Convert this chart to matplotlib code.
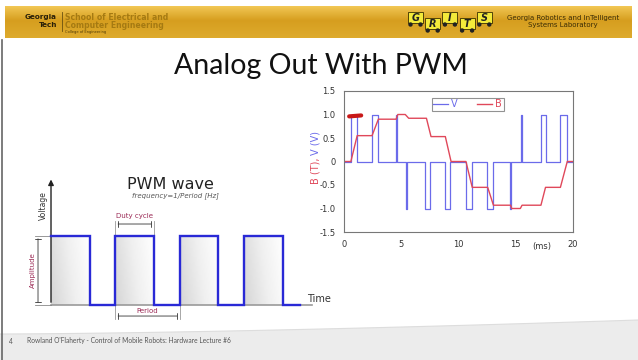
import numpy as np
import matplotlib.pyplot as plt
from matplotlib.patches import Rectangle, Circle, Polygon

W, H = 638, 360

# --- right chart: V (volts) pulses and B (tesla) response, time in ms ---
V_T = [0, 0.6, 1.15, 2.45, 2.95, 4.5, 4.65, 5.4, 5.52, 7.1, 7.55, 8.8, 9.3,
       10.65, 11.2, 12.5, 13.0, 14.5, 14.6, 15.45, 15.58, 17.2, 17.6, 18.9, 19.5, 20]
V_LEVEL = [0, 1, 0, 1, 0, 1, 0, -1, 0, -1, 0, -1, 0,
           -1, 0, -1, 0, -1, 0, 1, 0, 1, 0, 1, 0, 0]

B_T = [0, 0.6, 1.15, 2.45, 3.0, 4.55, 4.7, 5.35, 5.65, 7.2, 7.6, 8.85, 9.35,
       10.65, 11.2, 12.55, 13.05, 14.55, 14.65, 15.4, 15.55, 17.2, 17.6, 18.9, 19.5, 20]
B_VAL = [0, 0, 0.55, 0.55, 0.9, 0.9, 1.0, 1.0, 0.92, 0.92, 0.53, 0.53, 0,
         0, -0.55, -0.55, -0.93, -0.93, -1.0, -1.0, -0.93, -0.93, -0.55, -0.55, 0, 0]

CURSOR_T = [0.45, 1.5]
CURSOR_B = [0.96, 0.98]

Y_TICKS = [1.5, 1.0, 0.5, 0, -0.5, -1.0, -1.5]
Y_TICK_LABELS = ['1.5', '1.0', '0.5', '0', '-0.5', '-1.0', '-1.5']
X_TICKS = [0, 5, 10, 15, 20]

# --- left diagram: PWM wave (time in periods, voltage normalised) ---
PWM_T = [0, 0.6, 1.0, 1.6, 2.0, 2.6, 3.0, 3.6, 3.87]
PWM_V = [1, 0, 1, 0, 1, 0, 1, 0, 0]
PULSE_START = [0, 1.0, 2.0, 3.0]
PULSE_WIDTH = 0.6


def px_box(l, t, r, b):
    return [l / W, 1 - b / H, (r - l) / W, (b - t) / H]


fig = plt.figure(figsize=(W / 100, H / 100), dpi=100)
fig.patch.set_facecolor('white')

# background / slide decorations in pixel coordinates
bg = fig.add_axes([0, 0, 1, 1])
bg.set_xlim(0, W)
bg.set_ylim(H, 0)
bg.axis('off')

# golden header bar
grad = np.linspace(0, 1, 60)[:, None]
top_c = np.array([0.95, 0.78, 0.33])
mid_c = np.array([0.84, 0.62, 0.12])
bot_c = np.array([0.87, 0.67, 0.18])
rows = np.where(grad < 0.45, top_c + (mid_c - top_c) * (grad / 0.45),
                mid_c + (bot_c - mid_c) * ((grad - 0.45) / 0.55))
bg.imshow(rows[:, None, :].repeat(2, axis=1), extent=(5, 632, 38, 6),
          origin='upper', aspect='auto', zorder=1)

bg.text(57, 17, 'Georgia', ha='right', va='center', fontsize=5.2,
        fontweight='bold', color='#2a2008', family='DejaVu Sans')
bg.text(57, 25, 'Tech', ha='right', va='center', fontsize=5.2,
        fontweight='bold', color='#2a2008', family='DejaVu Sans')
bg.plot([61.5, 61.5], [12, 31], color='#6a5010', lw=0.6, zorder=2)
bg.text(65, 17, 'School of Electrical and', ha='left', va='center', fontsize=5.6,
        fontweight='bold', color='#a57a12', family='DejaVu Sans')
bg.text(65, 25, 'Computer Engineering', ha='left', va='center', fontsize=5.6,
        fontweight='bold', color='#a57a12', family='DejaVu Sans')
bg.text(65, 32, 'College of Engineering', ha='left', va='center', fontsize=2.6,
        color='#4a3808', family='DejaVu Sans')

# GRITS logo
for i, ch in enumerate('GRITS'):
    x0 = 408 + i * 17.2
    y0 = 12 if i % 2 == 0 else 18
    bg.add_patch(Rectangle((x0, y0), 15, 11, facecolor='#f3ea3a',
                           edgecolor='#3a3000', lw=0.6, zorder=3))
    bg.text(x0 + 7.5, y0 + 5.8, ch, ha='center', va='center', fontsize=7,
            fontstyle='italic', fontweight='bold', color='#222222', zorder=4)
    for dx in (2.5, 12.5):
        bg.add_patch(Circle((x0 + dx, y0 + 12.5), 1.5, color='#222222', zorder=4))

bg.text(563, 18, 'Georgia Robotics and InTelligent', ha='center', va='center',
        fontsize=5, color='#3a2c05', family='DejaVu Sans')
bg.text(563, 25, 'Systems Laboratory', ha='center', va='center',
        fontsize=5, color='#3a2c05', family='DejaVu Sans')

# footer band with curved edge
xs = np.linspace(0, W, 100)
curve = 334 - 14 * (xs / W) ** 1.5
bg.add_patch(Polygon(np.column_stack([np.r_[xs, W, 0], np.r_[curve, H, H]]),
                     closed=True, facecolor='#ececec', edgecolor='none', zorder=0))
bg.plot(xs, curve, color='#dddddd', lw=0.8, zorder=0)
bg.plot([1.5, 1.5], [40, H], color='#666666', lw=1.2)

bg.text(9, 341, '4', ha='left', va='center', fontsize=4.8, color='#555555',
        family='Lato')
bg.text(27, 341, "Rowland O'Flaherty - Control of Mobile Robots: Hardware Lecture #6",
        ha='left', va='center', fontsize=4.8, color='#555555', family='Lato')

bg.text(321, 66, 'Analog Out With PWM', ha='center', va='center', fontsize=20.5,
        color='#111111', family='Lato')

# ---------- left: PWM wave diagram ----------
ax1 = fig.add_axes(px_box(20, 170, 335, 325))
ax1.axis('off')

shade = np.linspace(0.22, 0.0, 60)[None, :] + np.linspace(0.0, 0.05, 30)[:, None]
for s in PULSE_START:
    ax1.imshow(shade, cmap='Greys', vmin=0, vmax=1, aspect='auto',
               extent=(s, s + PULSE_WIDTH, 0, 1), origin='upper', zorder=1)
ax1.set_xlim(-0.482, 4.415)
ax1.set_ylim(-0.29, 1.957)

ax1.plot([0, 4.06], [0, 0], color='#9a9a9a', lw=1.2, zorder=2)
ax1.annotate('', xy=(0, 1.86), xytext=(0, 0),
             arrowprops=dict(arrowstyle='-|>', color='#222222', lw=1.0,
                             mutation_scale=8), zorder=3)
ax1.plot(PWM_T, PWM_V, drawstyle='steps-post', color='#2929d6', lw=1.7,
         zorder=4, solid_joinstyle='miter')

ax1.text(-0.124, 1.435, 'Voltage', rotation=90, ha='center', va='center',
         fontsize=5.5, color='#333333')
ax1.text(4.17, 0.08, 'Time', ha='center', va='center', fontsize=7,
         color='#333333')
ax1.text(1.85, 1.745, 'PWM wave', ha='center', va='center', fontsize=11.5,
         color='#222222')
ax1.text(1.93, 1.58, 'frequency=1/Period [Hz]', ha='center', va='center',
         fontsize=5, fontstyle='italic', color='#555555')

maroon = '#9b2a55'
# amplitude bracket
ax1.plot([-0.25, 0], [1, 1], color='#888888', lw=0.6)
ax1.plot([-0.25, 0], [0, 0], color='#888888', lw=0.6)
ax1.annotate('', xy=(-0.202, 1), xytext=(-0.202, 0),
             arrowprops=dict(arrowstyle='|-|', color='#333333', lw=0.6,
                             mutation_scale=2))
ax1.text(-0.285, 0.5, 'Amplitude', rotation=90, ha='center', va='center',
         fontsize=5, color=maroon)
# duty cycle bracket
for s in (1.0, 1.6):
    ax1.plot([s, s], [1, 1.22], color='#999999', lw=0.6)
ax1.annotate('', xy=(1.6, 1.174), xytext=(1.0, 1.174),
             arrowprops=dict(arrowstyle='|-|', color='#333333', lw=0.6,
                             mutation_scale=2))
ax1.text(1.3, 1.285, 'Duty cycle', ha='center', va='center', fontsize=5,
         color=maroon)
# period bracket
for s in (1.0, 2.0):
    ax1.plot([s, s], [0, -0.2], color='#999999', lw=0.6)
ax1.annotate('', xy=(2.0, -0.16), xytext=(1.0, -0.16),
             arrowprops=dict(arrowstyle='|-|', color='#333333', lw=0.6,
                             mutation_scale=2))
ax1.text(1.5, -0.08, 'Period', ha='center', va='center', fontsize=5,
         color=maroon)

# ---------- right: V and B vs time ----------
ax2 = fig.add_axes(px_box(344, 91, 573, 232))
ax2.plot(V_T, V_LEVEL, drawstyle='steps-post', color='#6b6bea', lw=0.9, label='V')
ax2.plot(B_T, B_VAL, color='#e0485a', lw=1.0, label='B')
ax2.plot(CURSOR_T, CURSOR_B, color='#c81818', lw=3, solid_capstyle='round')
ax2.set_xlim(0, 20)
ax2.set_ylim(-1.5, 1.5)
ax2.set_yticks(Y_TICKS)
ax2.set_yticklabels(Y_TICK_LABELS)
ax2.set_xticks(X_TICKS)
ax2.tick_params(labelsize=6, colors='#333333', length=0, pad=6)
for sp in ax2.spines.values():
    sp.set_color('#777777')
    sp.set_linewidth(0.8)
leg = ax2.legend(loc='upper center', bbox_to_anchor=(0.54, 0.985), ncol=2,
                 fontsize=7, frameon=True, fancybox=False, handlelength=1.5,
                 handletextpad=0.35, columnspacing=2.0, borderpad=0.15,
                 labelcolor='linecolor')
leg.get_frame().set_edgecolor('#777777')
leg.get_frame().set_linewidth(0.8)

bg.text(542, 246, '(ms)', ha='center', va='center', fontsize=6, color='#333333')
bg.text(315, 171, 'B (T),', rotation=90, ha='center', va='center', fontsize=7,
        color='#e0485a')
bg.text(315, 143, 'V (V)', rotation=90, ha='center', va='center', fontsize=7,
        color='#6b6bea')

fig.savefig('out.png', dpi=100)
